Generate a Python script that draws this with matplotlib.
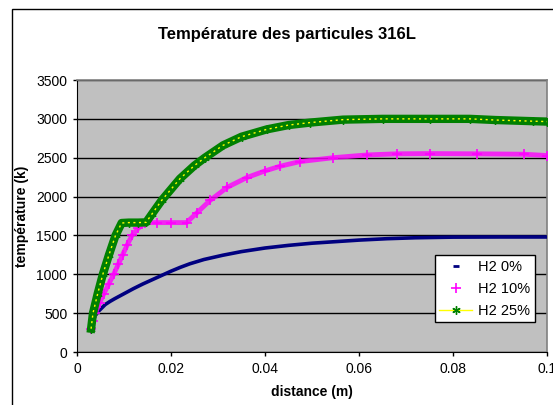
import matplotlib
matplotlib.use("Agg")
import matplotlib.pyplot as plt
from matplotlib.lines import Line2D
from matplotlib.patches import Rectangle

plt.rcParams['font.family'] = ['Liberation Sans', 'DejaVu Sans']

## data (distance in m, temperature in K)
x_h2_0 = [0.003, 0.0032, 0.0036, 0.004, 0.0045, 0.005, 0.006, 0.007, 0.008, 0.010,
          0.012, 0.014, 0.016, 0.018, 0.020, 0.022, 0.024, 0.027, 0.031, 0.035,
          0.040, 0.045, 0.050, 0.055, 0.060, 0.066, 0.072, 0.080, 0.090, 0.100]
t_h2_0 = [300, 360, 430, 480, 520, 550, 610, 650, 685, 750,
          815, 875, 930, 985, 1040, 1090, 1135, 1190, 1245, 1292,
          1338, 1372, 1400, 1420, 1440, 1458, 1470, 1478, 1480, 1480]

x_h2_10 = [0.003, 0.0033, 0.0039, 0.0048, 0.0057, 0.0068, 0.0078, 0.0088, 0.0097, 0.0107,
           0.0117, 0.013, 0.0145, 0.017, 0.020, 0.0233, 0.0255, 0.0283, 0.032, 0.0361,
           0.040, 0.0432, 0.0474, 0.0545, 0.0616, 0.068, 0.075, 0.085, 0.095, 0.100]
t_h2_10 = [300, 400, 500, 630, 750, 880, 1000, 1130, 1250, 1380,
           1500, 1590, 1665, 1665, 1665, 1665, 1790, 1950, 2120, 2244,
           2330, 2390, 2450, 2500, 2535, 2550, 2553, 2550, 2545, 2528]

x_h2_25 = [0.003, 0.0034, 0.0044, 0.0055, 0.0068, 0.0082, 0.0095, 0.011, 0.013, 0.0147,
           0.016, 0.018, 0.0219, 0.025, 0.0272, 0.0311, 0.035, 0.0404, 0.045, 0.0496,
           0.0566, 0.065, 0.075, 0.0836, 0.089, 0.097, 0.100]
t_h2_25 = [300, 500, 750, 1000, 1250, 1500, 1660, 1665, 1665, 1668,
           1780, 1950, 2230, 2400, 2500, 2660, 2770, 2865, 2920, 2952,
           2990, 3000, 3000, 3000, 2985, 2970, 2965]

labels = ['H2 0%', 'H2 10%', 'H2 25%']
xticks = [0, 0.02, 0.04, 0.06, 0.08, 0.1]
xticklabels = ['0', '0.02', '0.04', '0.06', '0.08', '0.1']
yticks = [0, 500, 1000, 1500, 2000, 2500, 3000, 3500]

fig = plt.figure(figsize=(5.53, 4.05), dpi=100)
ax = fig.add_axes([77/553, 53/405, 470/553, 272/405])
ax.set_facecolor('#C0C0C0')

# outer chart border (cropped on the right and bottom)
fig.patches.append(Rectangle((12/553, -0.1), 1.0, 1.1 - 9/405, transform=fig.transFigure,
                             fill=False, edgecolor='black', linewidth=1))

## series
ax.plot(x_h2_0, t_h2_0, color='#000080', linewidth=2.6, solid_capstyle='butt', zorder=3)

ax.plot(x_h2_10, t_h2_10, color='#FF00FF', linewidth=3.5, alpha=0.8, zorder=3)
ax.plot(x_h2_10, t_h2_10, linestyle='none', marker='+', markersize=7,
        markeredgewidth=1.2, color='#FF00FF', zorder=4)

ax.plot(x_h2_25, t_h2_25, color='#008000', linewidth=6, zorder=5)
ax.plot(x_h2_25, t_h2_25, linestyle='none', marker=(6, 2, 0), markersize=6,
        markeredgewidth=1, color='#008000', zorder=6)
ax.plot(x_h2_25, t_h2_25, color='#FFFF00', linewidth=1, linestyle=(0, (1.5, 2.5)), zorder=7)

## axes
ax.set_xlim(0, 0.1)
ax.set_ylim(0, 3500)
ax.set_xticks(xticks)
ax.set_xticklabels(xticklabels)
ax.set_yticks(yticks)
ax.tick_params(axis='both', labelsize=10, direction='out', length=3, width=1, pad=4)
ax.grid(axis='y', color='black', linewidth=1)
ax.set_axisbelow(True)
for s in ['top', 'right']:
    ax.spines[s].set_color('#808080')
    ax.spines[s].set_linewidth(1.2)
for s in ['left', 'bottom']:
    ax.spines[s].set_color('black')

ax.set_xlabel('distance (m)', fontsize=10, fontweight='bold', labelpad=7)
ax.set_ylabel('température (k)', fontsize=10, fontweight='bold', labelpad=5)
fig.text(287.5/553, 1 - 35/405, 'Température des particules 316L', ha='center', va='center',
         fontsize=12, fontweight='bold')

## legend
handles = [Line2D([], [], linestyle='none', marker='_', markersize=5, markeredgewidth=2, color='#000080'),
           Line2D([], [], linestyle='none', marker='+', markersize=7, markeredgewidth=1.2, color='#FF00FF'),
           Line2D([], [], color='#FFFF00', linewidth=1, marker=(6, 2, 0), markersize=6,
                  markeredgecolor='#008000', markerfacecolor='#008000')]
leg = ax.legend(handles, labels, loc='lower right', bbox_to_anchor=(0.974, 0.110),
                borderaxespad=0, fontsize=10.5, fancybox=False, framealpha=1,
                edgecolor='black', handlelength=2.3, handletextpad=0.4,
                labelspacing=0.55, borderpad=0.3)
leg.get_frame().set_linewidth(1)
leg.set_zorder(10)

fig.savefig('out.png', dpi=100)
